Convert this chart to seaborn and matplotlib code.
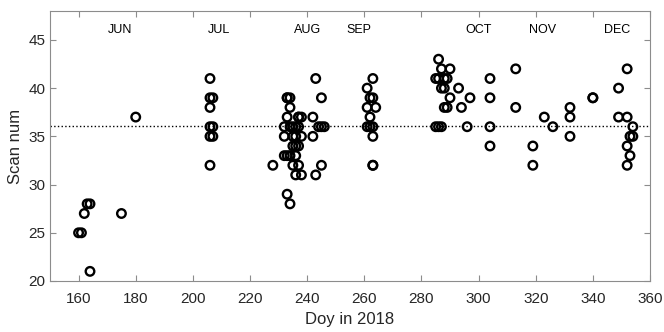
import numpy as np
import pandas as pd
import matplotlib
matplotlib.use("Agg")
import matplotlib.pyplot as plt
import seaborn as sns

# day of year / scan number
doy = [160, 161, 162, 163, 164, 164, 175, 180,
       206, 206, 207, 206, 206, 207, 206, 207, 206,
       228, 232, 232, 232, 233, 233, 233, 233, 233, 234, 234, 234, 234, 234,
       235, 235, 235, 235, 236, 236, 236, 236, 236, 237, 237, 237, 237, 237,
       238, 238, 238, 242, 242, 243, 243, 244, 245, 245, 245, 246,
       261, 261, 261, 262, 262, 262, 263, 263, 263, 263, 263, 263, 264,
       285, 285, 286, 286, 286, 287, 287, 287, 288, 288, 288, 289, 289, 290, 290,
       293, 294, 296, 297, 304, 304, 304, 304,
       313, 313, 319, 319, 323, 326, 332, 332, 332, 340, 340,
       349, 349, 352, 352, 352, 352, 353, 353, 354, 354]
scan = [25, 25, 27, 28, 28, 21, 27, 37,
        41, 39, 39, 38, 36, 36, 35, 35, 32,
        32, 36, 35, 33, 39, 37, 33, 29, 39, 38, 36, 33, 28, 39,
        36, 35, 34, 32, 36, 35, 34, 33, 31, 37, 36, 34, 32, 37,
        37, 35, 31, 37, 35, 41, 31, 36, 36, 32, 39, 36,
        40, 38, 36, 39, 37, 36, 41, 39, 36, 35, 32, 32, 38,
        41, 36, 43, 41, 36, 42, 40, 36, 41, 40, 38, 41, 38, 42, 39,
        40, 38, 36, 39, 41, 39, 34, 36,
        42, 38, 34, 32, 37, 36, 38, 37, 35, 39, 39,
        40, 37, 42, 37, 34, 32, 35, 33, 36, 35]
mean_scan = 36.05  # dotted reference line
months = ["JUN", "JUL", "AUG", "SEP", "OCT", "NOV", "DEC"]
month_pos = [174.5, 209, 240, 258, 300, 322.5, 348.5]

df = pd.DataFrame({"doy": doy, "scan": scan})

sns.set_style("white")
plt.rcParams["font.family"] = ["Liberation Sans", "DejaVu Sans"]

fig = plt.figure(figsize=(6.64, 3.32), dpi=100)
ax = fig.add_axes([50 / 664, 1 - 281 / 332, 600 / 664, 270 / 332])

sns.scatterplot(data=df, x="doy", y="scan", ax=ax, marker="o", s=38,
                facecolors="none", edgecolor="black", linewidth=1.7)
ax.axhline(mean_scan, color="black", linestyle=":", linewidth=1.0)

for m, xp in zip(months, month_pos):
    ax.text(xp, 46.0, m, ha="center", va="center", fontsize=9, color="black")

ax.set_xlim(150, 360)
ax.set_ylim(20, 48)
ax.set_xticks(np.arange(160, 361, 20))
ax.set_yticks(np.arange(20, 46, 5))
ax.tick_params(direction="in", length=4, width=0.8, color="#8c8c8c",
               labelsize=11, labelcolor="#262626", top=True, right=True,
               bottom=True, left=True)
ax.tick_params(axis="x", pad=8)
for sp in ax.spines.values():
    sp.set_color("#8c8c8c")
    sp.set_linewidth(0.8)
ax.set_xlabel("Doy in 2018", fontsize=12, color="#262626", labelpad=4)
ax.set_ylabel("Scan num", fontsize=12, color="#262626", labelpad=4)

fig.savefig("out.png", dpi=100)
